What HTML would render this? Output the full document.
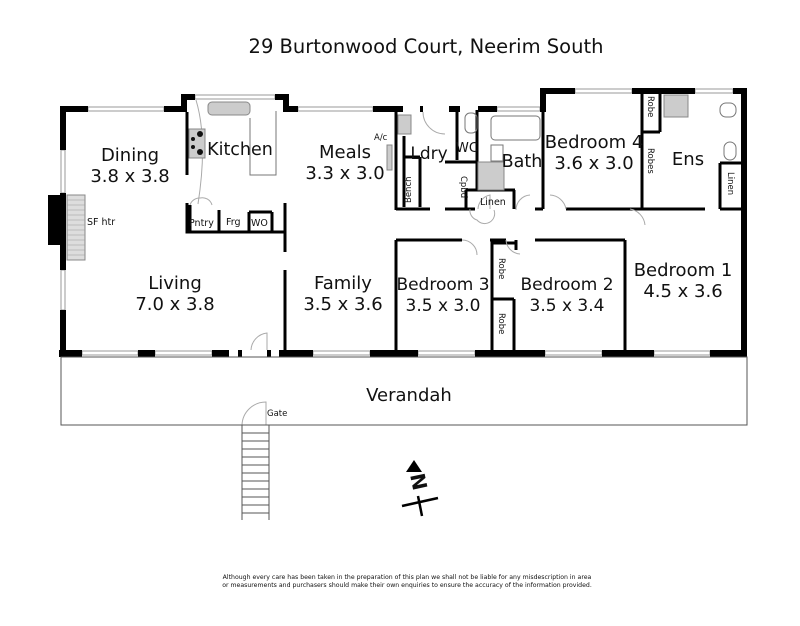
<!DOCTYPE html>
<html><head><style>
html,body{margin:0;padding:0;background:#fff;}
svg{display:block;}
text{font-family:"DejaVu Sans","Liberation Sans",sans-serif;fill:#111;}
</style></head><body>
<svg width="800" height="626" viewBox="0 0 800 626" xmlns="http://www.w3.org/2000/svg">
<text x="426" y="53" font-size="19.5" text-anchor="middle">29 Burtonwood Court, Neerim South</text>

<g stroke="#999" stroke-width="1" fill="none">
<rect x="88" y="107" width="76" height="4"/>
<rect x="195" y="95" width="80" height="4"/>
<rect x="298" y="107" width="75" height="4"/>
<rect x="497" y="107" width="43" height="4"/>
<rect x="575" y="89" width="57" height="4"/>
<rect x="695" y="89" width="38" height="4"/>
<rect x="82" y="351" width="56" height="4"/>
<rect x="155" y="351" width="57" height="4"/>
<rect x="313" y="351" width="57" height="4"/>
<rect x="418" y="351" width="57" height="4"/>
<rect x="545" y="351" width="57" height="4"/>
<rect x="654" y="351" width="56" height="4"/>
<rect x="61" y="150" width="4" height="43"/>
<rect x="61" y="270" width="4" height="40"/>
</g>

<g fill="#000">
<rect x="60" y="106" width="6" height="44"/>
<rect x="60" y="193" width="6" height="77"/>
<rect x="60" y="310" width="6" height="47"/>
<rect x="48" y="195" width="12" height="50"/>
<rect x="60" y="106" width="28" height="6"/>
<rect x="164" y="106" width="22" height="6"/>
<rect x="181" y="94" width="6" height="18"/>
<rect x="181" y="94" width="14" height="6"/>
<rect x="275" y="94" width="14" height="6"/>
<rect x="283" y="94" width="6" height="18"/>
<rect x="283" y="106" width="15" height="6"/>
<rect x="373" y="106" width="30" height="6"/>
<rect x="420" y="106" width="3" height="6"/>
<rect x="449" y="106" width="11" height="6"/>
<rect x="478" y="106" width="19" height="6"/>
<rect x="540" y="88" width="6" height="24"/>
<rect x="540" y="88" width="35" height="6"/>
<rect x="632" y="88" width="63" height="6"/>
<rect x="733" y="88" width="14" height="6"/>
<rect x="741" y="88" width="6" height="269"/>
<rect x="59" y="350" width="23" height="7"/>
<rect x="138" y="350" width="17" height="7"/>
<rect x="212" y="350" width="17" height="7"/>
<rect x="238" y="350" width="4" height="7"/>
<rect x="267" y="350" width="4" height="7"/>
<rect x="279" y="350" width="34" height="7"/>
<rect x="370" y="350" width="48" height="7"/>
<rect x="475" y="350" width="70" height="7"/>
<rect x="602" y="350" width="52" height="7"/>
<rect x="710" y="350" width="37" height="7"/>
</g>

<rect x="67" y="195" width="18" height="65" fill="#ddd" stroke="#888"/>
<g stroke="#999" stroke-width="0.6">
<line x1="67" y1="200" x2="85" y2="200"/><line x1="67" y1="205" x2="85" y2="205"/><line x1="67" y1="210" x2="85" y2="210"/><line x1="67" y1="215" x2="85" y2="215"/><line x1="67" y1="220" x2="85" y2="220"/><line x1="67" y1="225" x2="85" y2="225"/><line x1="67" y1="230" x2="85" y2="230"/><line x1="67" y1="235" x2="85" y2="235"/><line x1="67" y1="240" x2="85" y2="240"/><line x1="67" y1="245" x2="85" y2="245"/><line x1="67" y1="250" x2="85" y2="250"/><line x1="67" y1="255" x2="85" y2="255"/>
</g>

<g stroke="#000" stroke-width="3" fill="none">
<line x1="187" y1="112" x2="187" y2="175"/>
<polyline points="187,203 187,232 285,232 285,203"/>
<line x1="285" y1="232" x2="285" y2="252"/>
<line x1="285" y1="270" x2="285" y2="352"/>
<line x1="396" y1="110" x2="396" y2="210"/>
<line x1="396" y1="240" x2="396" y2="352"/>
<line x1="396" y1="209" x2="430" y2="209"/>
<line x1="445" y1="209" x2="475" y2="209"/>
<line x1="457" y1="110" x2="457" y2="160"/>
<line x1="445" y1="162" x2="477" y2="162"/>
<line x1="477" y1="110" x2="477" y2="190"/>
<line x1="466" y1="190" x2="466" y2="209"/>
<line x1="466" y1="190" x2="515" y2="190"/>
<line x1="514" y1="190" x2="514" y2="209"/>
<line x1="543" y1="110" x2="543" y2="209"/>
<line x1="543" y1="209" x2="535" y2="209"/>
<line x1="566" y1="209" x2="705" y2="209"/>
<line x1="720" y1="209" x2="741" y2="209"/>
<line x1="642" y1="92" x2="642" y2="209"/>
<line x1="642" y1="132" x2="660" y2="132"/>
<line x1="660" y1="92" x2="660" y2="132"/>
<line x1="720" y1="163" x2="741" y2="163"/>
<line x1="720" y1="163" x2="720" y2="209"/>
<line x1="396" y1="240" x2="462" y2="240"/>
<line x1="490" y1="240" x2="506" y2="240"/>
<line x1="535" y1="240" x2="625" y2="240"/>
<line x1="625" y1="240" x2="625" y2="352"/>
<polyline points="516,243 492,243 492,352"/>
<line x1="492" y1="299" x2="514" y2="299"/>
<line x1="514" y1="299" x2="514" y2="352"/>
<line x1="516" y1="240" x2="516" y2="250"/>
<polyline points="404,136 404,207"/>
<line x1="404" y1="157" x2="420" y2="157"/>
<line x1="420" y1="157" x2="420" y2="207"/>
<line x1="190" y1="205" x2="190" y2="232"/>
<line x1="249" y1="212" x2="272" y2="212"/>
<line x1="249" y1="212" x2="249" y2="232"/>
<line x1="272" y1="212" x2="272" y2="232"/>
<line x1="219" y1="210" x2="219" y2="232"/>
</g>

<g stroke="#aaa" stroke-width="1" fill="none">
<path d="M423,112 A22,22 0 0 0 445,134"/>
<path d="M251,350 A18,18 0 0 1 267,333 L267,350"/>
<path d="M516,210 A15,15 0 0 1 530,195"/>
<path d="M478,209 A15,15 0 0 1 490,195 L490,209"/>
<path d="M566,209 A17,17 0 0 0 550,195"/>
<path d="M630,209 A18,18 0 0 1 645,225"/>
<path d="M462,240 A15,15 0 0 1 477,255"/>
<path d="M506,240 A15,15 0 0 0 520,254"/>
<path d="M242,425 A24,24 0 0 1 266,402 L266,425"/>
<path d="M190,205 A10,10 0 0 1 200,198 A10,10 0 0 1 212,205"/>
<path d="M470,209 A10,10 0 0 0 477,220 A10,10 0 0 0 494,210"/>
<path d="M196,100 Q208,140 198,204"/>
</g>

<g fill="#ccc" stroke="#888" stroke-width="1">
<rect x="208" y="102" width="42" height="13" rx="4"/>
<rect x="189" y="129" width="16" height="29"/>
<rect x="398" y="115" width="13" height="19"/>
<rect x="478" y="162" width="26" height="28"/>
<rect x="664" y="95" width="24" height="22"/>
<rect x="387" y="145" width="5" height="25"/>
</g>
<g fill="#111"><circle cx="200" cy="134" r="3"/><circle cx="200" cy="152" r="3"/><circle cx="193" cy="139" r="2"/><circle cx="193" cy="147" r="2"/></g>
<g fill="none" stroke="#777" stroke-width="1">
<rect x="491" y="116" width="49" height="24" rx="4"/>
<rect x="465" y="113" width="12" height="20" rx="5"/>
<rect x="720" y="103" width="16" height="14" rx="6"/>
<rect x="724" y="142" width="12" height="18" rx="6"/>
<rect x="491" y="145" width="12" height="16"/>
<polyline points="250,118 250,175 276,175 276,111"/>
</g>

<g font-size="18" text-anchor="middle">
<text x="130" y="161">Dining</text><text x="130" y="182">3.8 x 3.8</text>
<text x="240" y="155" font-size="17.5">Kitchen</text>
<text x="345" y="158">Meals</text><text x="345" y="179">3.3 x 3.0</text>
<text x="429" y="159" font-size="17">Ldry</text>
<text x="522" y="167" font-size="17.5">Bath</text>
<text x="594" y="148">Bedroom 4</text><text x="594" y="169">3.6 x 3.0</text>
<text x="688" y="165">Ens</text>
<text x="175" y="289">Living</text><text x="175" y="310">7.0 x 3.8</text>
<text x="343" y="289">Family</text><text x="343" y="310">3.5 x 3.6</text>
<text x="443" y="290" font-size="17">Bedroom 3</text><text x="443" y="311" font-size="17">3.5 x 3.0</text>
<text x="567" y="290" font-size="17">Bedroom 2</text><text x="567" y="311" font-size="17">3.5 x 3.4</text>
<text x="683" y="276">Bedroom 1</text><text x="683" y="297">4.5 x 3.6</text>
<text x="409" y="401">Verandah</text>
</g>
<g font-size="13"><text x="456" y="152">WC</text></g>
<g font-size="9.5">
<text x="87" y="225">SF htr</text>
<text x="189" y="226">Pntry</text>
<text x="226" y="225">Frg</text>
<text x="251" y="226">WO</text>
<text x="480" y="205">Linen</text>
<text x="374" y="140" font-size="8.5">A/c</text>
<text x="267" y="416" font-size="8.5">Gate</text>
</g>
<g font-size="8.5">
<text transform="translate(411,203) rotate(-90)">Bench</text>
<text transform="translate(461,176) rotate(90)">Cpbd</text>
<text transform="translate(648,96) rotate(90)">Robe</text>
<text transform="translate(648,148) rotate(90)">Robes</text>
<text transform="translate(728,172) rotate(90)">Linen</text>
<text transform="translate(499,258) rotate(90)">Robe</text>
<text transform="translate(499,313) rotate(90)">Robe</text>
</g>

<rect x="61" y="357" width="686" height="68" fill="none" stroke="#555" stroke-width="1"/>
<g stroke="#555" stroke-width="1">
<line x1="242" y1="425" x2="242" y2="520"/><line x1="269" y1="425" x2="269" y2="520"/>
<line x1="242" y1="433" x2="269" y2="433"/><line x1="242" y1="441" x2="269" y2="441"/><line x1="242" y1="449" x2="269" y2="449"/><line x1="242" y1="457" x2="269" y2="457"/><line x1="242" y1="465" x2="269" y2="465"/><line x1="242" y1="473" x2="269" y2="473"/><line x1="242" y1="481" x2="269" y2="481"/><line x1="242" y1="489" x2="269" y2="489"/><line x1="242" y1="497" x2="269" y2="497"/><line x1="242" y1="505" x2="269" y2="505"/><line x1="242" y1="513" x2="269" y2="513"/>
</g>

<polygon points="414,460 406,472 422,472" fill="#000"/>
<text transform="translate(410,475) rotate(78)" font-size="20" font-weight="bold">N</text>
<g stroke="#000" stroke-width="2.5"><line x1="402" y1="506" x2="438" y2="498"/><line x1="418" y1="496" x2="422" y2="516"/></g>

<g font-size="6.2" fill="#333" text-anchor="middle">
<text x="407" y="579">Although every care has been taken in the preparation of this plan we shall not be liable for any misdescription in area</text>
<text x="407" y="587">or measurements and purchasers should make their own enquiries to ensure the accuracy of the information provided.</text>
</g>
</svg>
</body></html>
